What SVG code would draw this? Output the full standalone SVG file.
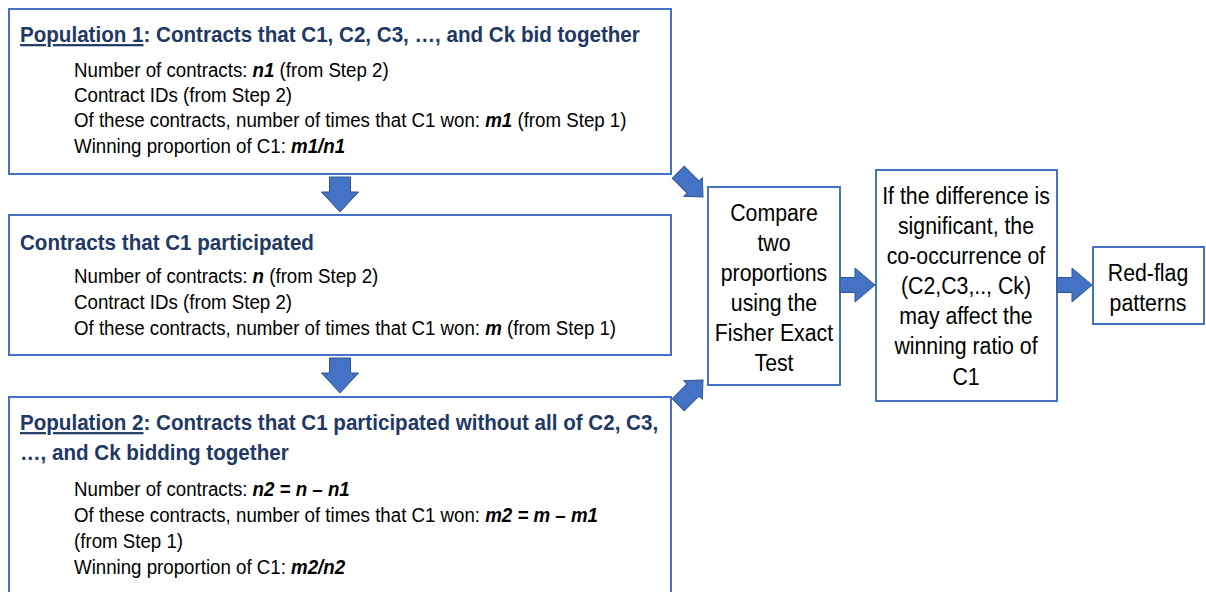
<svg xmlns="http://www.w3.org/2000/svg" width="1206" height="592" viewBox="0 0 1206 592">
<style>
.box{fill:#fff;stroke:#4472C4;stroke-width:2}
.title{font-family:"Liberation Sans",Arial,sans-serif;font-weight:bold;font-size:22px;fill:#1F3864}
.body{font-family:"Liberation Sans",Arial,sans-serif;font-size:19.6px;fill:#000}
.bi{font-weight:bold;font-style:italic}
.ctr{font-family:"Liberation Sans",Arial,sans-serif;font-size:23px;fill:#000;text-anchor:middle}
.arrow{fill:#4472C4;stroke:#2F5597;stroke-width:1}
</style>
<defs>
<path id="downArrow" d="M-35,-10.5 L-20,-10.5 L-20,-18.5 L0,0 L-20,18.5 L-20,10.5 L-35,10.5 Z"/>
<path id="diagArrow" d="M-35,-8.5 L-14,-8.5 L-14,-13 L0,0 L-14,13 L-14,8.5 L-35,8.5 Z"/>
<path id="rightArrow" d="M-35,-7.5 L-20,-7.5 L-20,-17 L0,0 L-20,17 L-20,7.5 L-35,7.5 Z"/>
</defs>
<rect width="1206" height="592" fill="#fff"/>

<g id="population1">
<rect class="box" x="9" y="9" width="662" height="165"/>
<text class="title" transform="translate(20,42) scale(0.936,1)"><tspan text-decoration="underline">Population 1</tspan>: Contracts that C1, C2, C3, …, and Ck bid together</text>
<text class="body" transform="translate(74,77) scale(0.954,1)">Number of contracts: <tspan class="bi">n1</tspan> (from Step 2)</text>
<text class="body" transform="translate(74,102) scale(0.954,1)">Contract IDs (from Step 2)</text>
<text class="body" transform="translate(74,127) scale(0.954,1)">Of these contracts, number of times that C1 won: <tspan class="bi">m1</tspan> (from Step 1)</text>
<text class="body" transform="translate(74,153) scale(0.954,1)">Winning proportion of C1: <tspan class="bi">m1/n1</tspan></text>
</g>

<g id="participated">
<rect class="box" x="9" y="215" width="662" height="140"/>
<text class="title" transform="translate(20,250) scale(0.936,1)">Contracts that C1 participated</text>
<text class="body" transform="translate(74,283) scale(0.954,1)">Number of contracts: <tspan class="bi">n</tspan> (from Step 2)</text>
<text class="body" transform="translate(74,309) scale(0.954,1)">Contract IDs (from Step 2)</text>
<text class="body" transform="translate(74,335) scale(0.954,1)">Of these contracts, number of times that C1 won: <tspan class="bi">m</tspan> (from Step 1)</text>
</g>

<g id="population2">
<rect class="box" x="9" y="397" width="662" height="205"/>
<text class="title" transform="translate(20,430) scale(0.936,1)"><tspan text-decoration="underline">Population 2</tspan>: Contracts that C1 participated without all of C2, C3,</text>
<text class="title" transform="translate(20,460) scale(0.936,1)">…, and Ck bidding together</text>
<text class="body" transform="translate(74,496) scale(0.954,1)">Number of contracts: <tspan class="bi">n2 = n – n1</tspan></text>
<text class="body" transform="translate(74,522) scale(0.954,1)">Of these contracts, number of times that C1 won: <tspan class="bi">m2 = m – m1</tspan></text>
<text class="body" transform="translate(74,548) scale(0.954,1)">(from Step 1)</text>
<text class="body" transform="translate(74,574) scale(0.954,1)">Winning proportion of C1: <tspan class="bi">m2/n2</tspan></text>
</g>

<g id="compare">
<rect class="box" x="708" y="187" width="132" height="198"/>
<text class="ctr" transform="translate(774,221) scale(0.926,1)">Compare</text>
<text class="ctr" transform="translate(774,251) scale(0.926,1)">two</text>
<text class="ctr" transform="translate(774,281) scale(0.926,1)">proportions</text>
<text class="ctr" transform="translate(774,311) scale(0.926,1)">using the</text>
<text class="ctr" transform="translate(774,341) scale(0.926,1)">Fisher Exact</text>
<text class="ctr" transform="translate(774,371) scale(0.926,1)">Test</text>
</g>

<g id="significance">
<rect class="box" x="876" y="170" width="181" height="231"/>
<text class="ctr" transform="translate(966,204) scale(0.926,1)">If the difference is</text>
<text class="ctr" transform="translate(966,234) scale(0.926,1)">significant, the</text>
<text class="ctr" transform="translate(966,264) scale(0.926,1)">co-occurrence of</text>
<text class="ctr" transform="translate(966,294) scale(0.926,1)">(C2,C3,.., Ck)</text>
<text class="ctr" transform="translate(966,324) scale(0.926,1)">may affect the</text>
<text class="ctr" transform="translate(966,354) scale(0.926,1)">winning ratio of</text>
<text class="ctr" transform="translate(966,385) scale(0.926,1)">C1</text>
</g>

<g id="redflag">
<rect class="box" x="1093" y="247" width="111" height="77"/>
<text class="ctr" transform="translate(1148,281) scale(0.926,1)">Red-flag</text>
<text class="ctr" transform="translate(1148,311) scale(0.926,1)">patterns</text>
</g>

<g id="connectors">
<use href="#downArrow" class="arrow" transform="translate(340,212) rotate(90)"/>
<use href="#downArrow" class="arrow" transform="translate(340,393) rotate(90)"/>
<use href="#diagArrow" class="arrow" transform="translate(703,197) rotate(45)"/>
<use href="#diagArrow" class="arrow" transform="translate(703,380) rotate(-45)"/>
<use href="#rightArrow" class="arrow" transform="translate(875,285)"/>
<use href="#rightArrow" class="arrow" transform="translate(1092,285)"/>
</g>
</svg>
